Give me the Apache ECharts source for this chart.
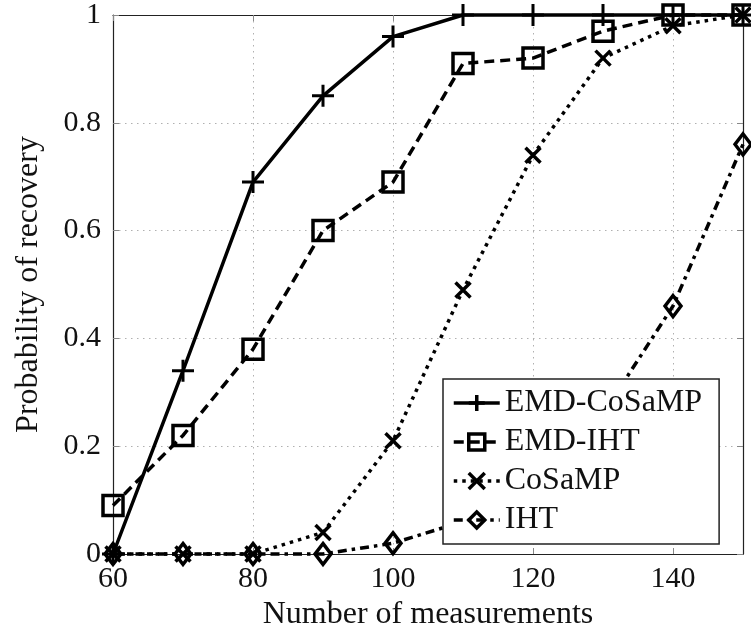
<!DOCTYPE html>
<html>
<head>
<meta charset="utf-8">
<script src="https://cdn.jsdelivr.net/npm/echarts@6/dist/echarts.min.js"></script>
<style>
  html, body { margin: 0; padding: 0; background: #fff; }
  #main { width: 751px; height: 638px; }
</style>
</head>
<body>
<div id="main"></div>
<script>
var measurements = [60, 70, 80, 90, 100, 110, 120, 130, 140, 150];
var emdCosamp = [0, 0.34, 0.69, 0.85, 0.96, 1, 1, 1, 1, 1];
var emdIht = [0.09, 0.22, 0.38, 0.60, 0.69, 0.91, 0.92, 0.97, 1, 1];
var cosamp = [0, 0, 0, 0.04, 0.21, 0.49, 0.74, 0.92, 0.98, 1];
var iht = [0, 0, 0, 0, 0.02, 0.06, 0.14, 0.26, 0.46, 0.76];

var serif = "'Liberation Serif', 'DejaVu Serif', serif";

function pairs(vals) {
    return measurements.map(function (m, i) { return [m, vals[i]]; });
}

var myChart = echarts.init(document.getElementById('main'));

var gridLine = { show: true, lineStyle: { color: '#b0b0b0', width: 1, type: [1.5, 4.5] } };
var tickIn = { show: true, inside: true, length: 6, lineStyle: { color: '#888', width: 1 } };
var border = { show: true, onZero: false, lineStyle: { color: '#222', width: 1.2 } };

var option = {
    animation: false,
    backgroundColor: '#fff',
    grid: { left: 113, right: 8, top: 15, bottom: 84 },
    legend: {
        orient: 'vertical',
        left: 443,
        top: 379,
        padding: [8, 17, 8, 9],
        itemWidth: 46,
        itemHeight: 20,
        itemGap: 7,
        backgroundColor: '#fff',
        borderColor: '#222',
        borderWidth: 1.5,
        borderRadius: 0,
        selectedMode: false,
        lineStyle: { width: 3.5 },
        itemStyle: { borderWidth: 3.5 },
        textStyle: { fontFamily: serif, fontSize: 32, color: '#111', lineHeight: 31 },
        data: ['EMD-CoSaMP', 'EMD-IHT', 'CoSaMP', 'IHT']
    },
    xAxis: [{
        type: 'value',
        min: 60, max: 150, interval: 20,
        name: 'Number of measurements',
        nameLocation: 'middle',
        nameGap: 43,
        nameTextStyle: { fontFamily: serif, fontSize: 32, color: '#111' },
        axisLine: border,
        axisTick: tickIn,
        splitLine: gridLine,
        axisLabel: { showMaxLabel: false, margin: 10, fontFamily: serif, fontSize: 30, color: '#111' }
    }, {
        type: 'value', position: 'top',
        min: 60, max: 150, interval: 20,
        axisLine: border,
        axisTick: tickIn,
        splitLine: { show: false },
        axisLabel: { show: false }
    }],
    yAxis: [{
        type: 'value',
        min: 0, max: 1, interval: 0.2,
        name: 'Probability of recovery',
        nameLocation: 'middle',
        nameGap: 68,
        nameTextStyle: { fontFamily: serif, fontSize: 32, color: '#111' },
        axisLine: border,
        axisTick: tickIn,
        splitLine: gridLine,
        axisLabel: { margin: 12, fontFamily: serif, fontSize: 30, color: '#111' }
    }, {
        type: 'value', position: 'right',
        min: 0, max: 1, interval: 0.2,
        axisLine: border,
        axisTick: tickIn,
        splitLine: { show: false },
        axisLabel: { show: false }
    }],
    series: [
        {
            name: 'EMD-CoSaMP',
            type: 'line',
            data: pairs(emdCosamp),
            symbol: 'path://M10,0L10,20M0,10L20,10',
            symbolSize: 22,
            lineStyle: { color: '#000', width: 3.5, type: 'solid' },
            itemStyle: { color: 'transparent', borderColor: '#000', borderWidth: 3 },
            emphasis: { disabled: true },
            clip: false
        },
        {
            name: 'EMD-IHT',
            type: 'line',
            data: pairs(emdIht),
            symbol: 'rect',
            symbolSize: 20,
            lineStyle: { color: '#000', width: 3.5, type: [10, 6] },
            itemStyle: { color: 'transparent', borderColor: '#000', borderWidth: 3.5 },
            emphasis: { disabled: true },
            clip: false
        },
        {
            name: 'CoSaMP',
            type: 'line',
            data: pairs(cosamp),
            symbol: 'path://M0,0L20,20M20,0L0,20',
            symbolSize: 15,
            lineStyle: { color: '#000', width: 3.5, type: [3.5, 5] },
            itemStyle: { color: 'transparent', borderColor: '#000', borderWidth: 3.5 },
            emphasis: { disabled: true },
            clip: false
        },
        {
            name: 'IHT',
            type: 'line',
            data: pairs(iht),
            symbol: 'diamond',
            symbolSize: [16, 21],
            lineStyle: { color: '#000', width: 3.5, type: [9, 5, 3.5, 5] },
            itemStyle: { color: 'transparent', borderColor: '#000', borderWidth: 3.5 },
            emphasis: { disabled: true },
            clip: false
        }
    ]
};
option && myChart.setOption(option);
</script>
</body>
</html>
